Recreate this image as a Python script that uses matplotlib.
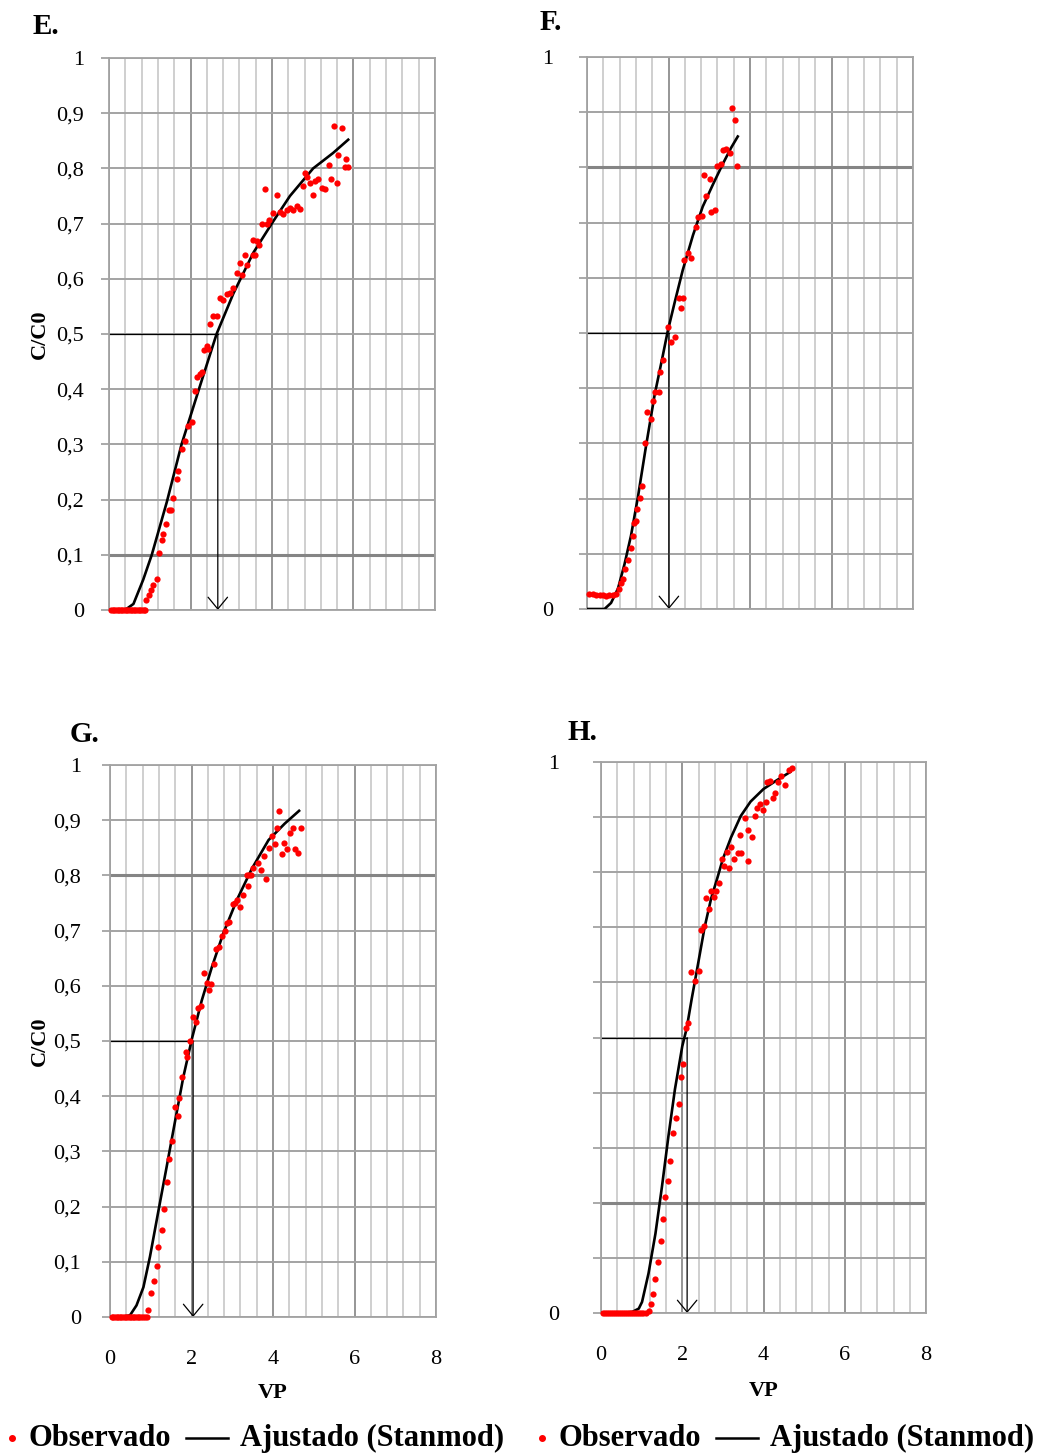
import matplotlib
matplotlib.use("Agg")
import matplotlib.pyplot as plt
from matplotlib.lines import Line2D
from matplotlib.ticker import MultipleLocator

plt.rcParams['font.family'] = ['Liberation Serif', 'DejaVu Serif']

# --- data -------------------------------------------------------------------
y_ticks = [0, 0.1, 0.2, 0.3, 0.4, 0.5, 0.6, 0.7, 0.8, 0.9, 1]
y_labels_full = ["0", "0,1", "0,2", "0,3", "0,4", "0,5", "0,6", "0,7", "0,8", "0,9", "1"]
y_labels_short = ["0", "", "", "", "", "", "", "", "", "", "1"]
x_ticks = [0, 2, 4, 6, 8]
x_labels = ["0", "2", "4", "6", "8"]

# E.
e_obs_x = [0.05, 0.09, 0.13, 0.17, 0.21, 0.25, 0.29, 0.33, 0.37, 0.41, 0.45,
           0.49, 0.53, 0.57, 0.61, 0.65, 0.69, 0.73, 0.77, 0.81, 0.85, 0.88,
           0.92, 0.97, 1.03, 1.08, 1.19, 1.23, 1.29, 1.33, 1.41, 1.48, 1.52,
           1.58, 1.66, 1.70, 1.78, 1.87, 1.95, 2.03, 2.11, 2.17, 2.23, 2.27,
           2.32, 2.40, 2.44, 2.48, 2.56, 2.64, 2.72, 2.79, 2.89, 2.97, 3.05,
           3.13, 3.22, 3.26, 3.34, 3.38, 3.53, 3.58, 3.54, 3.62, 3.69, 3.75,
           3.83, 3.87, 3.93, 4.02, 4.12, 4.20, 4.28, 4.36, 4.44, 4.51, 4.61,
           4.69, 4.76, 4.81, 4.86, 4.94, 5.00, 5.06, 5.14, 5.22, 5.31, 5.41,
           5.45, 5.51, 5.59, 5.63, 5.71, 5.79, 5.82, 5.87]
e_obs_y = [0, 0, 0, 0, 0, 0, 0, 0, 0, 0, 0,
           0, 0, 0, 0, 0, 0, 0, 0, 0, 0, 0,
           0.018, 0.027, 0.037, 0.045, 0.057, 0.104, 0.126, 0.137, 0.155, 0.181, 0.181,
           0.202, 0.237, 0.251, 0.292, 0.307, 0.333, 0.340, 0.396, 0.422, 0.427, 0.431,
           0.471, 0.479, 0.473, 0.518, 0.533, 0.533, 0.566, 0.562, 0.573, 0.575, 0.584,
           0.610, 0.629, 0.607, 0.644, 0.625, 0.644, 0.644, 0.671, 0.669, 0.662, 0.699,
           0.763, 0.700, 0.706, 0.720, 0.751, 0.721, 0.717, 0.725, 0.728, 0.725, 0.732,
           0.727, 0.769, 0.791, 0.784, 0.773, 0.751, 0.777, 0.780, 0.765, 0.762, 0.806,
           0.780, 0.876, 0.773, 0.825, 0.873, 0.803, 0.817, 0.803]
e_fit_x = [0.0, 0.30, 0.43, 0.60, 0.84, 1.05, 1.42, 1.78, 2.22, 2.64, 3.05,
           3.54, 4.02, 4.44, 5.01, 5.50, 5.87]
e_fit_y = [0.0, 0.0, 0.002, 0.011, 0.055, 0.100, 0.196, 0.300, 0.403, 0.500,
           0.573, 0.647, 0.703, 0.750, 0.800, 0.828, 0.852]

# F.
f_obs_x = [0.06, 0.14, 0.22, 0.31, 0.39, 0.47, 0.55, 0.63, 0.72, 0.78, 0.83,
           0.89, 0.94, 1.00, 1.08, 1.12, 1.16, 1.20, 1.22, 1.30, 1.36, 1.43,
           1.48, 1.57, 1.61, 1.68, 1.76, 1.78, 1.86, 1.98, 2.07, 2.15, 2.25,
           2.35, 2.31, 2.38, 2.48, 2.56, 2.67, 2.73, 2.82, 2.86, 2.93, 3.01,
           3.05, 3.15, 3.20, 3.30, 3.34, 3.42, 3.50, 3.55, 3.63, 3.68]
f_obs_y = [0.028, 0.027, 0.026, 0.026, 0.025, 0.023, 0.025, 0.026, 0.028, 0.037, 0.048,
           0.055, 0.072, 0.089, 0.111, 0.133, 0.155, 0.159, 0.181, 0.201, 0.222, 0.300,
           0.357, 0.344, 0.377, 0.393, 0.393, 0.430, 0.451, 0.510, 0.484, 0.492, 0.564,
           0.564, 0.546, 0.632, 0.645, 0.636, 0.692, 0.710, 0.712, 0.786, 0.749, 0.779,
           0.719, 0.723, 0.803, 0.806, 0.832, 0.834, 0.826, 0.908, 0.885, 0.803]
f_fit_x = [0.0, 0.43, 0.59, 0.76, 0.92, 1.08, 1.25, 1.45, 1.66, 1.86, 1.98,
           2.15, 2.35, 2.60, 2.84, 3.09, 3.33, 3.54, 3.70]
f_fit_y = [0.0, 0.0, 0.011, 0.037, 0.081, 0.133, 0.203, 0.296, 0.388, 0.459, 0.503,
           0.555, 0.614, 0.677, 0.729, 0.769, 0.806, 0.836, 0.856]

# G.
g_obs_x = [0.04, 0.08, 0.12, 0.16, 0.20, 0.24, 0.28, 0.32, 0.36, 0.40, 0.44,
           0.48, 0.52, 0.56, 0.60, 0.64, 0.68, 0.72, 0.76, 0.80, 0.85, 0.90,
           0.94, 1.01, 1.08, 1.15, 1.19, 1.27, 1.33, 1.41, 1.45, 1.51, 1.60,
           1.66, 1.70, 1.77, 1.86, 1.88, 1.97, 2.04, 2.10, 2.15, 2.23, 2.30,
           2.37, 2.43, 2.48, 2.56, 2.59, 2.67, 2.74, 2.82, 2.86, 2.93, 3.01,
           3.07, 3.12, 3.19, 3.27, 3.38, 3.35, 3.41, 3.46, 3.52, 3.64, 3.71,
           3.79, 3.83, 3.89, 3.97, 4.05, 4.09, 4.15, 4.23, 4.28, 4.34, 4.42,
           4.48, 4.54, 4.61, 4.68]
g_obs_y = [0, 0, 0, 0, 0, 0, 0, 0, 0, 0, 0,
           0, 0, 0, 0, 0, 0, 0, 0, 0, 0, 0,
           0.012, 0.044, 0.066, 0.092, 0.127, 0.158, 0.196, 0.245, 0.287, 0.319, 0.380,
           0.365, 0.397, 0.434, 0.480, 0.471, 0.500, 0.543, 0.534, 0.559, 0.563, 0.623,
           0.605, 0.593, 0.604, 0.640, 0.667, 0.670, 0.690, 0.700, 0.714, 0.716, 0.749,
           0.750, 0.756, 0.742, 0.764, 0.780, 0.800, 0.800, 0.800, 0.814, 0.822, 0.810,
           0.835, 0.794, 0.850, 0.871, 0.856, 0.885, 0.917, 0.839, 0.859, 0.848, 0.877,
           0.885, 0.848, 0.841, 0.885]
g_fit_x = [0.0, 0.30, 0.49, 0.65, 0.82, 0.98, 1.19, 1.39, 1.60, 1.80, 2.02,
           2.25, 2.50, 2.78, 3.11, 3.48, 3.89, 4.29, 4.64]
g_fit_y = [0.0, 0.0, 0.003, 0.021, 0.054, 0.109, 0.193, 0.272, 0.356, 0.435, 0.507,
           0.573, 0.634, 0.695, 0.755, 0.812, 0.864, 0.894, 0.917]

# H.
h_obs_x = [0.04, 0.09, 0.14, 0.19, 0.24, 0.29, 0.34, 0.39, 0.44, 0.49, 0.54,
           0.59, 0.64, 0.69, 0.74, 0.79, 0.84, 0.89, 0.94, 0.99, 1.04, 1.10,
           1.17, 1.24, 1.27, 1.34, 1.40, 1.48, 1.52, 1.58, 1.66, 1.71, 1.78,
           1.85, 1.93, 1.97, 2.02, 2.08, 2.15, 2.21, 2.31, 2.40, 2.45, 2.53,
           2.59, 2.65, 2.71, 2.78, 2.83, 2.91, 2.97, 3.02, 3.10, 3.16, 3.21,
           3.28, 3.36, 3.44, 3.43, 3.54, 3.62, 3.62, 3.72, 3.79, 3.85, 3.91,
           3.99, 4.05, 4.09, 4.17, 4.23, 4.29, 4.35, 4.43, 4.53, 4.62, 4.70]
h_obs_y = [0, 0, 0, 0, 0, 0, 0, 0, 0, 0, 0,
           0, 0, 0, 0, 0, 0, 0, 0, 0, 0, 0,
           0.003, 0.017, 0.035, 0.061, 0.092, 0.130, 0.170, 0.210, 0.239, 0.275, 0.327,
           0.353, 0.379, 0.428, 0.451, 0.517, 0.526, 0.618, 0.603, 0.620, 0.696, 0.703,
           0.753, 0.733, 0.766, 0.755, 0.765, 0.781, 0.824, 0.811, 0.837, 0.807, 0.846,
           0.824, 0.835, 0.835, 0.868, 0.899, 0.876, 0.820, 0.863, 0.902, 0.916, 0.923,
           0.912, 0.927, 0.964, 0.966, 0.935, 0.944, 0.964, 0.974, 0.958, 0.986, 0.990]
h_fit_x = [0.0, 0.50, 0.77, 0.93, 1.01, 1.17, 1.34, 1.50, 1.66, 1.82, 2.00,
           2.11, 2.23, 2.39, 2.55, 2.71, 2.87, 3.00, 3.20, 3.44, 3.68, 4.00,
           4.33, 4.66]
h_fit_y = [0.0, 0.0, 0.002, 0.008, 0.020, 0.072, 0.144, 0.229, 0.321, 0.406, 0.484,
           0.517, 0.569, 0.634, 0.700, 0.752, 0.791, 0.824, 0.863, 0.902, 0.928, 0.951,
           0.967, 0.982]

# VP at C/C0 = 0.5 (arrow position)
vp_half = {"E.": 2.67, "F.": 2.01, "G.": 2.04, "H.": 2.12}

W, H = 1050, 1454
GRID_H = '#a3a3a3'
GRID_V_MINOR = '#cbcbcb'
GRID_V_MAJOR = '#8e8e8e'


def make_axes(fig, left, right, top, bottom):
    return fig.add_axes([left / W, 1 - bottom / H, (right - left) / W, (bottom - top) / H])


def draw_panel(ax, obs_x, obs_y, fit_x, fit_y, x50, dark_y, ylabels, show_x, ypad):
    ax.set_xlim(0, 8)
    ax.set_ylim(0, 1)
    ax.set_axisbelow(True)
    ax.set_xticks(x_ticks)
    ax.xaxis.set_minor_locator(MultipleLocator(0.4))
    ax.set_yticks(y_ticks)
    ax.set_yticklabels(ylabels)
    ax.grid(which='minor', axis='x', color=GRID_V_MINOR, lw=1.3)
    ax.grid(which='major', axis='x', color=GRID_V_MAJOR, lw=1.3)
    ax.grid(which='major', axis='y', color=GRID_H, lw=1.4)
    ax.axhline(dark_y, color='#858585', lw=2.2, zorder=0.8)
    for s in ax.spines.values():
        s.set_color(GRID_H)
        s.set_linewidth(1.3)
    ax.tick_params(axis='y', length=6, width=1.3, color=GRID_H, pad=ypad, labelsize=16)
    ax.tick_params(axis='x', which='both', length=0, labelsize=16, pad=24)
    if show_x:
        ax.set_xticklabels(x_labels)
    else:
        ax.set_xticklabels([])

    ax.plot([0, x50], [0.5, 0.5], color='black', lw=0.9, zorder=2)
    ax.annotate('', xy=(x50, 0), xytext=(x50, 0.5),
                arrowprops=dict(arrowstyle='->,head_length=0.85,head_width=0.7',
                                color='black', lw=0.9, shrinkA=0, shrinkB=0,
                                mutation_scale=10), zorder=2)
    ax.plot(fit_x, fit_y, color='black', lw=1.9, zorder=3)
    ax.plot(obs_x, obs_y, 'o', color='#ff0000', ms=4.5, mec='none', zorder=4, clip_on=False)


def legend_row(fig, x0, y):
    yf = 1 - y / H
    fig.add_artist(Line2D([x0 / W], [yf], transform=fig.transFigure, marker='o',
                          ms=4, color='#ff0000', ls='none'))
    fig.text((x0 + 16) / W, yf, "Observado", fontsize=22, fontweight='bold',
             ha='left', va='center')
    fig.add_artist(Line2D([(x0 + 174) / W, (x0 + 216) / W], [yf, yf],
                          transform=fig.transFigure, color='black', lw=1.8))
    fig.text((x0 + 228) / W, yf, "Ajustado (Stanmod)", fontsize=22, fontweight='bold',
             ha='left', va='center')


def main():
    fig = plt.figure(figsize=(10.5, 14.54), dpi=100)

    ax_e = make_axes(fig, 109, 435, 58, 610)
    draw_panel(ax_e, e_obs_x, e_obs_y, e_fit_x, e_fit_y, vp_half["E."], 0.1,
               y_labels_full, False, 12)
    ax_f = make_axes(fig, 587, 913, 57, 609)
    draw_panel(ax_f, f_obs_x, f_obs_y, f_fit_x, f_fit_y, vp_half["F."], 0.8,
               y_labels_short, False, 18)
    ax_g = make_axes(fig, 110, 436, 765, 1317)
    draw_panel(ax_g, g_obs_x, g_obs_y, g_fit_x, g_fit_y, vp_half["G."], 0.8,
               y_labels_full, True, 15)
    ax_h = make_axes(fig, 601, 926, 762, 1313)
    draw_panel(ax_h, h_obs_x, h_obs_y, h_fit_x, h_fit_y, vp_half["H."], 0.2,
               y_labels_short, True, 24)

    # panel letters
    for name, x, y in [("E.", 33, 26), ("F.", 540, 22), ("G.", 70, 735), ("H.", 568, 733)]:
        fig.text(x / W, 1 - y / H, name, fontsize=21, fontweight='bold', ha='left', va='center')

    # axis titles
    fig.text(40 / W, 1 - 334 / H, "C/C0", rotation=90, fontsize=16, fontweight='bold',
             ha='center', va='center')
    fig.text(40 / W, 1 - 1041 / H, "C/C0", rotation=90, fontsize=16, fontweight='bold',
             ha='center', va='center')
    fig.text(273 / W, 1 - 1393 / H, "VP", fontsize=16, fontweight='bold', ha='center', va='center')
    fig.text(764 / W, 1 - 1391 / H, "VP", fontsize=16, fontweight='bold', ha='center', va='center')

    legend_row(fig, 12, 1438)
    legend_row(fig, 542, 1438)

    fig.savefig("out.png", dpi=100, facecolor='white')


if __name__ == "__main__":
    main()
